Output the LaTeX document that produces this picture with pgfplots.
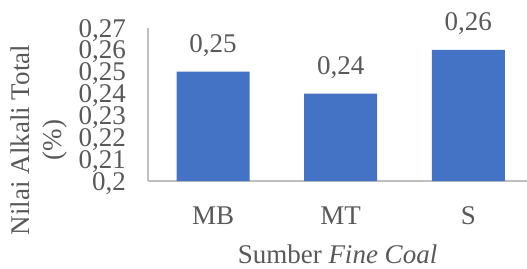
\documentclass[border=0pt]{standalone}
\usepackage{pgfplots}
\pgfplotsset{compat=1.18}
\usepackage{fontspec}
\setmainfont{Liberation Serif}
\definecolor{barblue}{HTML}{4472C4}
\definecolor{txt}{HTML}{595959}
\definecolor{axgray}{HTML}{BFBFBF}
\begin{document}
\fontsize{27}{32}\selectfont
\begin{tikzpicture}
\useasboundingbox (-148pt,-87pt) rectangle (379pt,181pt);
\begin{axis}[
  at={(0pt,0pt)}, anchor=south west,
  scale only axis, width=379pt, height=153pt,
  xmin=-0.51, xmax=2.46, ymin=0.2, ymax=0.27,
  clip mode=individual,
  axis lines*=left,
  axis line style={axgray, line width=1.2pt},
  xtick={0,1,2}, xticklabels={MB,MT,S},
  ytick={0.2,0.21,0.22,0.23,0.24,0.25,0.26,0.27},
  yticklabels={{0,2},{0,21},{0,22},{0,23},{0,24},{0,25},{0,26},{0,27}},
  major tick length=0pt,
  tick label style={font=\fontsize{27}{32}\selectfont, text=txt, inner sep=0pt},
  xticklabel style={anchor=base, yshift=-43pt},
  yticklabel style={anchor=base east, xshift=-22pt, yshift=-9pt},
  ybar, bar width=73pt,
  nodes near coords={\pgfmathprintnumber[fixed,fixed zerofill,precision=2,use comma,assume math mode=true]{\pgfplotspointmeta}},
  nodes near coords style={font=\fontsize{27}{32}\selectfont, text=txt, inner sep=0pt, anchor=base, yshift=19pt},
]
\addplot[fill=barblue, draw=none] coordinates {(0,0.25) (1,0.24) (2,0.26)};
\node[rotate=90, align=center, inner sep=0pt, text=txt, font=\fontsize{27}{32}\selectfont]
  at (axis description cs:-0.2876,0.268) {Nilai Alkali Total\\(\%)};
\node[anchor=base, inner sep=0pt, text=txt, font=\fontsize{27}{32}\selectfont]
  at (axis description cs:0.5,-0.536) {Sumber \textit{Fine Coal}};
\end{axis}
\end{tikzpicture}
\end{document}
